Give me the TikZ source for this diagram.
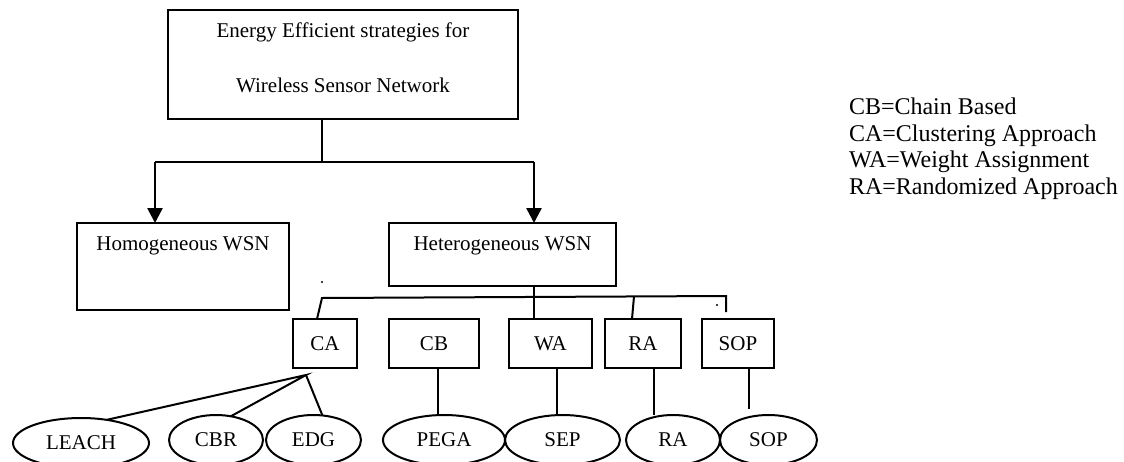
\documentclass[tikz,border=0pt]{standalone}
\usepackage{fontspec}
\setmainfont{Liberation Serif}
\usetikzlibrary{shapes.geometric, arrows.meta, positioning}

\begin{document}
\begin{tikzpicture}[x=0.5pt,y=-0.5pt,line width=1pt,
    font=\fontsize{10.5}{12}\selectfont,
    box/.style={draw, inner sep=0pt, outer sep=0pt},
    small/.style={box, minimum height=24.5pt},
    leaf/.style={draw, ellipse, inner sep=0pt, outer sep=0pt, minimum height=25pt},
    key/.style={anchor=base west, inner sep=0pt, font=\fontsize{12}{14}\selectfont},
    down/.style={line width=1.3pt, -{Triangle[width=7.5pt,length=7.5pt]}}
]
\useasboundingbox (0,0) rectangle (1124,461);

% top box
\node[box, minimum width=175pt, minimum height=54.5pt] (root) at (343,64.5) {};
\node[anchor=base] (rootl1) at ([yshift=-13.5pt]root.north) {Energy Efficient strategies for};
\node[anchor=base] (rootl2) at ([yshift=13.5pt]root.south) {Wireless Sensor Network};

% second level
\node[box, minimum width=106pt, minimum height=43.5pt] (homog) at (183,266.5) {};
\node[anchor=base] (homogl) at ([yshift=-13.5pt]homog.north) {Homogeneous WSN};
\node[box, minimum width=113.5pt, minimum height=31.5pt] (hetero) at (502.5,254.5) {};
\node[anchor=base] (heterol) at ([yshift=-13.5pt]hetero.north) {Heterogeneous WSN};

\coordinate (split) at (322,162);
\coordinate (homarr) at (155,162);
\coordinate (hetarr) at (534,162);
\draw (split |- root.south) -- (split);
\draw (homarr) -- (hetarr);
\draw[down] (homarr) -- (homarr |- homog.north);
\draw[down] (hetarr) -- (hetarr |- hetero.north);

% approaches
\node[small, minimum width=32pt] (ca) at (325,343.5) {CA};
\node[small, minimum width=45pt, right=16pt of ca] (cb) {CB};
\node[small, minimum width=41.5pt, right=15pt of cb] (wa) {WA};
\node[small, minimum width=38pt, right=6.5pt of wa] (ra) {RA};
\node[small, minimum width=36pt, right=10.5pt of ra] (sop) {SOP};

\coordinate (busl) at (322,298);
\coordinate (busr) at (726,296);
\coordinate (busend) at (726,312);
\coordinate (rajoin) at (634,296.5);
\draw ([xshift=-4pt]ca.north) -- (busl) -- (busr) -- (busend);
\draw (hetarr |- hetero.south) -- (hetarr |- wa.north);
\draw ([xshift=-5.5pt]ra.north) -- (rajoin);
\fill (322,282) circle (0.6pt);
\fill (717,305) circle (0.6pt);

% protocols
\node[leaf, minimum width=68pt] (leach) at (81,443) {LEACH};
\node[leaf, minimum width=47pt] (cbr) at (216,440) {CBR};
\node[leaf, minimum width=47.5pt, right=1.5pt of cbr] (edg) {EDG};
\node[leaf, minimum width=61pt] (pega) at (444,440) {PEGA};
\node[leaf, minimum width=57.5pt, right=0pt of pega] (sep) {SEP};
\node[leaf, minimum width=47pt] (raleaf) at (673,440) {RA};
\node[leaf, minimum width=48.5pt, right=0pt of raleaf] (sopleaf) {SOP};

\coordinate (fan) at (306,375);
\draw (leach.42) -- (fan) -- (cbr.58);
\draw (fan) -- (edg.70);
\draw ([xshift=2pt]cb.south) -- ([xshift=2pt]cb.south |- pega.north);
\draw ([xshift=3.25pt]wa.south) -- ([xshift=3.25pt]wa.south |- sep.north);
\draw ([xshift=5.5pt]ra.south) -- ([xshift=5.5pt]ra.south |- raleaf.north);
\coordinate (sopend) at (749,409);
\draw ([xshift=5.5pt]sop.south) -- (sopend);

% legend
\node[key] (keycb) at (848,114) {CB=Chain Based};
\node[key] (keyca) at (848,141) {CA=Clustering Approach};
\node[key] (keywa) at (848,167) {WA=Weight Assignment};
\node[key] (keyra) at (848,194) {RA=Randomized Approach};

\end{tikzpicture}
\end{document}
